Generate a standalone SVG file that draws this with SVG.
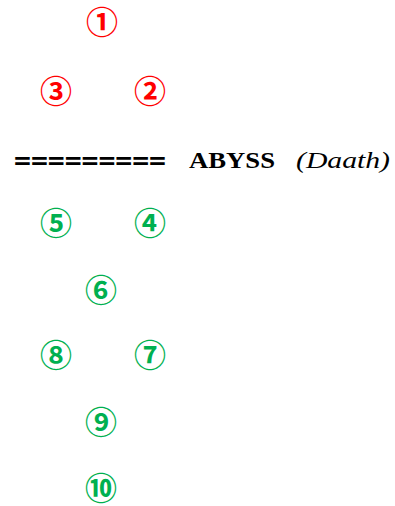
<svg xmlns="http://www.w3.org/2000/svg" width="395" height="506" viewBox="0 0 395 506">
<style>
.n{font-family:"Noto Sans CJK JP",sans-serif;font-weight:bold;font-size:32px;text-anchor:middle;dominant-baseline:central}
.r{fill:#FF0000}
.g{fill:#00B050}
.a{font-size:23px;fill:#000}
</style>
<rect width="395" height="506" fill="#fff"/>
<g id="n1"><text class="n r" x="102" y="20">①</text></g>
<g id="n2"><text class="n r" x="150" y="89">②</text></g>
<g id="n3"><text class="n r" x="56" y="89">③</text></g>
<g id="abyss">
<text class="a" x="14" y="168" font-family="'DejaVu Sans Mono',monospace" font-weight="bold" textLength="152" lengthAdjust="spacingAndGlyphs">=========</text>
<text class="a" x="189" y="168" font-family="'Liberation Serif',serif" font-weight="bold" textLength="86" lengthAdjust="spacingAndGlyphs">ABYSS</text>
<text class="a" x="296" y="168" font-family="'Liberation Serif',serif" font-style="italic" textLength="94" lengthAdjust="spacingAndGlyphs">(Daath)</text>
</g>
<g id="n4"><text class="n g" x="150" y="221">④</text></g>
<g id="n5"><text class="n g" x="56" y="221">⑤</text></g>
<g id="n6"><text class="n g" x="101" y="288">⑥</text></g>
<g id="n7"><text class="n g" x="150" y="353">⑦</text></g>
<g id="n8"><text class="n g" x="56" y="353">⑧</text></g>
<g id="n9"><text class="n g" x="101" y="420">⑨</text></g>
<g id="n10"><text class="n g" x="101" y="486">⑩</text></g>
<g id="connectors"></g>
</svg>
